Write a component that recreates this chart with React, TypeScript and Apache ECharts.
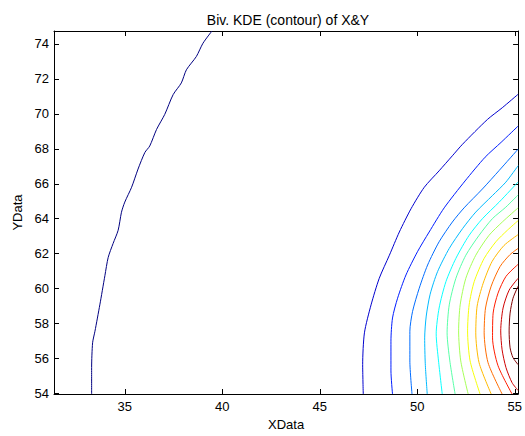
import React, { useEffect, useRef } from "react";
import * as echarts from "echarts";

const xTicks = [35, 40, 45, 50, 55];
const yTicks = [54, 56, 58, 60, 62, 64, 66, 68, 70, 72, 74];
const xRange = [31.37, 55.17];
const yRange = [53.97, 74.74];

const levelColors = [
  "#000080", "#0000ce", "#001dff", "#006cff", "#00baff", "#0affff",
  "#58ffa7", "#a7ff58", "#f5ff0a", "#ffba00", "#ff6c00", "#ff1d00",
  "#ce0000", "#800000",
];

const contour0 = [
  [33.3, 53.97], [33.3, 55.48], [33.35, 56.9], [33.47, 57.56], [33.72, 59.07],
  [33.98, 60.74], [34.15, 61.79], [34.4, 62.58], [34.66, 63.34], [34.83, 64.37],
  [35.0, 64.95], [35.35, 65.8], [35.68, 66.84], [36.03, 67.79], [36.28, 68.16],
  [36.63, 69.11], [37.05, 69.97], [37.48, 71.1], [37.9, 71.77], [38.16, 72.52],
  [38.67, 73.28], [39.01, 74.04], [39.47, 74.74],
];
const contour1 = [
  [47.23, 53.97], [47.2, 55.66], [47.29, 57.47], [47.63, 59.07], [48.05, 60.59],
  [48.57, 61.91], [49.08, 63.24], [49.68, 64.57], [50.36, 65.8], [51.12, 66.74],
  [51.8, 67.6], [52.32, 68.26], [53.6, 69.68], [54.36, 70.35], [55.17, 71.12],
];
const contour2 = [
  [48.73, 53.97], [48.65, 55.29], [48.65, 56.99], [48.73, 58.32], [48.99, 59.45],
  [49.42, 60.78], [50.01, 62.11], [50.61, 63.24], [51.38, 64.62], [52.45, 66.16],
  [53.48, 67.52], [54.3, 68.37], [55.17, 69.3],
];
const contour3 = [
  [49.73, 53.97], [49.62, 55.86], [49.62, 57.56], [49.76, 58.7], [50.1, 60.02],
  [50.53, 61.35], [51.12, 62.68], [51.8, 63.81], [52.4, 64.62], [53.34, 65.7],
  [54.2, 66.76], [55.17, 67.98],
];
const contour4 = [
  [50.51, 53.97], [50.41, 55.7], [50.38, 57.18], [50.46, 58.43], [50.66, 59.68],
  [51.04, 60.97], [51.64, 62.3], [52.32, 63.43], [53.0, 64.38], [53.85, 65.32],
  [54.54, 66.09], [55.17, 67.03],
];
const contour5 = [
  [51.28, 53.97], [51.09, 55.86], [50.97, 57.41], [51.12, 58.89], [51.47, 60.4],
  [51.98, 61.73], [52.66, 63.05], [53.34, 64.0], [54.2, 64.95], [55.17, 66.1],
];
const contour6 = [
  [51.94, 53.97], [51.67, 55.86], [51.53, 57.47], [51.64, 59.07], [51.98, 60.59],
  [52.49, 61.91], [53.17, 63.05], [53.85, 64.0], [54.54, 64.66], [55.17, 65.36],
];
const contour7 = [
  [52.61, 53.97], [52.23, 55.86], [52.12, 57.58], [52.2, 59.07], [52.49, 60.59],
  [53.0, 61.91], [53.68, 63.05], [54.36, 63.81], [55.17, 64.62],
];
const contour8 = [
  [53.22, 53.97], [52.71, 55.86], [52.58, 57.58], [52.66, 59.07], [52.92, 60.4],
  [53.43, 61.73], [54.03, 62.68], [54.62, 63.34], [55.17, 63.89],
];
const contour9 = [
  [53.79, 53.97], [53.17, 55.76], [53.0, 57.47], [53.07, 59.0], [53.38, 60.31],
  [53.84, 61.56], [54.45, 62.47], [55.17, 63.09],
];
const contour10 = [
  [54.35, 53.97], [53.63, 55.76], [53.43, 57.47], [53.5, 58.89], [53.79, 60.14],
  [54.25, 61.27], [54.76, 61.95], [55.17, 62.3],
];
const contour11 = [
  [54.86, 53.97], [54.14, 55.59], [53.86, 57.18], [53.89, 58.6], [54.14, 59.74],
  [54.55, 60.7], [55.17, 61.39],
];
const contour12 = [
  [55.17, 60.59], [54.71, 59.91], [54.4, 58.89], [54.28, 57.58], [54.35, 56.5],
  [54.55, 55.48], [54.86, 54.62], [55.17, 54.17],
];
const contour13 = [
  [55.17, 60.14], [54.91, 59.45], [54.76, 58.6], [54.71, 57.58], [54.76, 56.61],
  [54.91, 56.05], [55.17, 55.65],
];

const contours = [
  contour0, contour1, contour2, contour3, contour4, contour5, contour6,
  contour7, contour8, contour9, contour10, contour11, contour12, contour13,
];

const FONT = "'Liberation Sans', Arial, sans-serif";

export default function App() {
  const ref = useRef<HTMLDivElement>(null);
  useEffect(() => {
    if (!ref.current) return;
    const chart = echarts.init(ref.current, undefined, { renderer: "svg" });
    const axisLine = { show: true, lineStyle: { color: "#000", width: 1 } };
    const tickStyle = { inside: true, length: 5, lineStyle: { color: "#000", width: 1 } };
    chart.setOption({
      animation: false,
      backgroundColor: "#fff",
      title: {
        text: "Biv. KDE (contour) of X&Y",
        left: 283,
        textAlign: "center",
        top: 8,
        textStyle: { fontFamily: FONT, fontSize: 14, fontWeight: "normal", color: "#000" },
      },
      grid: { left: 54, right: 6, top: 31, bottom: 41, containLabel: false },
      xAxis: [
        {
          type: "value",
          min: xRange[0],
          max: xRange[1],
          position: "bottom",
          name: "XData",
          nameLocation: "middle",
          nameGap: 24,
          nameTextStyle: { fontFamily: FONT, fontSize: 13, color: "#000" },
          axisLine,
          axisTick: { ...tickStyle, customValues: xTicks },
          axisLabel: {
            customValues: xTicks,
            margin: 6,
            fontFamily: FONT,
            fontSize: 13,
            color: "#000",
          },
          splitLine: { show: false },
        },
        {
          type: "value",
          min: xRange[0],
          max: xRange[1],
          position: "top",
          axisLine,
          axisTick: { ...tickStyle, customValues: xTicks },
          axisLabel: { show: false },
          splitLine: { show: false },
        },
      ],
      yAxis: [
        {
          type: "value",
          min: yRange[0],
          max: yRange[1],
          position: "left",
          name: "YData",
          nameLocation: "middle",
          nameRotate: 90,
          nameGap: 27,
          nameTextStyle: { fontFamily: FONT, fontSize: 13, color: "#000" },
          axisLine,
          axisTick: { ...tickStyle, customValues: yTicks },
          axisLabel: {
            customValues: yTicks,
            margin: 5,
            fontFamily: FONT,
            fontSize: 13,
            color: "#000",
          },
          splitLine: { show: false },
        },
        {
          type: "value",
          min: yRange[0],
          max: yRange[1],
          position: "right",
          axisLine,
          axisTick: { ...tickStyle, customValues: yTicks },
          axisLabel: { show: false },
          splitLine: { show: false },
        },
      ],
      series: contours.map((c, i) => ({
        type: "line",
        data: c,
        xAxisIndex: 0,
        yAxisIndex: 0,
        showSymbol: false,
        symbol: "none",
        smooth: 0.25,
        clip: true,
        lineStyle: { color: levelColors[i], width: 1 },
        silent: true,
      })),
    });
    return () => chart.dispose();
  }, []);
  return (
    <div
      ref={ref}
      style={{ position: "fixed", left: 0, top: 0, width: 525, height: 436 }}
    />
  );
}
